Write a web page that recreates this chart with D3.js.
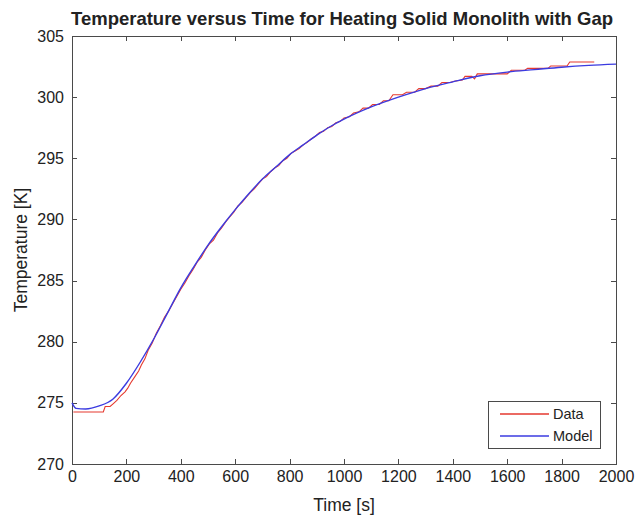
<!DOCTYPE html>
<head>
  <meta charset="utf-8">
  <style>
    body { margin: 0; background: #fff; }
    .axis path, .axis line { stroke: #4a4a4a; shape-rendering: crispEdges; }
    .axis text { font-family: "Liberation Sans", Arial, sans-serif; font-size: 16px; fill: #222; }
    .lbl { font-family: "Liberation Sans", Arial, sans-serif; fill: #222; }
  </style>
  <script src="https://cdn.jsdelivr.net/npm/d3@7"></script>
</head>
<body>
  <script>
    // axis ticks
    const xTicks = [0, 200, 400, 600, 800, 1000, 1200, 1400, 1600, 1800, 2000];
    const yTicks = [270, 275, 280, 285, 290, 295, 300, 305];

    // model curve (blue)
    const modelTime = [0, 15, 50, 100, 150, 200, 250, 300, 350, 400, 450, 500, 550, 600, 650, 700,
      750, 800, 850, 900, 950, 1000, 1100, 1200, 1300, 1400, 1500, 1600, 1700, 1800, 1900, 2000];
    const modelTemp = [275.0, 274.55, 274.5, 274.75, 275.3, 276.6, 278.3, 280.2, 282.3, 284.4, 286.2, 287.9,
      289.4, 290.8, 292.1, 293.3, 294.3, 295.3, 296.1, 296.9, 297.6, 298.2, 299.2, 300.0, 300.7, 301.25,
      301.75, 302.05, 302.25, 302.45, 302.6, 302.7];

    // measured data (red)
    const dataTime = [5, 115, 122, 140, 150, 165, 180, 195, 205, 215, 230, 245, 255, 268, 280, 295, 310, 325,
      340, 355, 370, 385, 400, 415, 430, 445, 460, 475, 490, 505, 520, 535, 550, 565, 580, 595, 610, 625,
      640, 655, 670, 685, 700, 715, 730, 745, 760, 775, 790, 805, 820, 835, 850, 865, 880, 895, 910, 925,
      940, 955, 970, 985, 1000, 1020, 1035, 1055, 1070, 1090, 1105, 1130, 1145, 1165, 1180, 1200, 1215,
      1230, 1260, 1275, 1300, 1320, 1345, 1360, 1390, 1405, 1435, 1445, 1470, 1480, 1490, 1560, 1600,
      1615, 1665, 1675, 1750, 1760, 1820, 1830, 1920];
    const dataTemp = [274.25, 274.25, 274.7, 274.7, 274.9, 275.2, 275.6, 275.9, 276.2, 276.6, 277.1, 277.6,
      278.1, 278.6, 279.3, 279.9, 280.7, 281.3, 282.0, 282.5, 283.1, 283.7, 284.3, 284.8, 285.4, 285.9,
      286.5, 286.9, 287.5, 288.0, 288.3, 288.9, 289.3, 289.8, 290.2, 290.6, 291.1, 291.4, 291.8, 292.2,
      292.5, 292.9, 293.3, 293.5, 293.9, 294.2, 294.4, 294.8, 295.0, 295.4, 295.6, 295.8, 296.1, 296.3,
      296.6, 296.8, 297.1, 297.2, 297.5, 297.6, 297.9, 298.0, 298.3, 298.4, 298.7, 298.8, 299.1, 299.1,
      299.4, 299.4, 299.7, 299.7, 300.2, 300.2, 300.2, 300.4, 300.4, 300.7, 300.7, 300.9, 300.9, 301.2,
      301.2, 301.3, 301.4, 301.7, 301.7, 301.5, 301.9, 301.9, 301.9, 302.2, 302.2, 302.35, 302.35, 302.55,
      302.55, 302.87, 302.87];

    const seriesNames = ['Data', 'Model'];
    const seriesColors = ['#e5392f', '#3b3be0'];

    const w = 636, h = 518;
    const m = { left: 72, right: 20, top: 36, bottom: 54 };

    const svg = d3.select('body').append('svg')
      .attr('width', w)
      .attr('height', h);

    const x = d3.scaleLinear().domain([0, 2000]).range([m.left, w - m.right]);
    const y = d3.scaleLinear().domain([270, 305]).range([h - m.bottom, m.top]);

    // frame
    svg.append('rect')
      .attr('x', x(0)).attr('y', y(305))
      .attr('width', x(2000) - x(0)).attr('height', y(270) - y(305))
      .attr('fill', 'none').attr('stroke', '#4a4a4a').attr('shape-rendering', 'crispEdges');

    svg.append('g').attr('class', 'axis')
      .attr('transform', `translate(0,${y(270)})`)
      .call(d3.axisBottom(x).tickValues(xTicks).tickFormat(d3.format('d'))
        .tickSizeInner(-5).tickSizeOuter(0).tickPadding(7));
    svg.append('g').attr('class', 'axis')
      .attr('transform', `translate(0,${y(305)})`)
      .call(d3.axisTop(x).tickValues(xTicks).tickSizeInner(-5).tickSizeOuter(0).tickFormat(''));
    svg.append('g').attr('class', 'axis')
      .attr('transform', `translate(${x(0)},0)`)
      .call(d3.axisLeft(y).tickValues(yTicks).tickSizeInner(-5).tickSizeOuter(0).tickPadding(8));
    svg.append('g').attr('class', 'axis')
      .attr('transform', `translate(${x(2000)},0)`)
      .call(d3.axisRight(y).tickValues(yTicks).tickSizeInner(-5).tickSizeOuter(0).tickFormat(''));

    const line = d3.line().x(d => x(d[0])).y(d => y(d[1]));

    svg.append('path')
      .datum(dataTime.map((t, i) => [t, dataTemp[i]]))
      .attr('d', line)
      .attr('fill', 'none').attr('stroke', seriesColors[0]).attr('stroke-width', 1.1);

    svg.append('path')
      .datum(modelTime.map((t, i) => [t, modelTemp[i]]))
      .attr('d', line.curve(d3.curveMonotoneX))
      .attr('fill', 'none').attr('stroke', seriesColors[1]).attr('stroke-width', 1.4);

    // title and labels
    svg.append('text').attr('class', 'lbl')
      .attr('x', (x(0) + x(2000)) / 2 - 2).attr('y', 25)
      .attr('text-anchor', 'middle').attr('font-weight', 'bold').attr('font-size', 18.5)
      .text('Temperature versus Time for Heating Solid Monolith with Gap');
    svg.append('text').attr('class', 'lbl')
      .attr('x', (x(0) + x(2000)) / 2).attr('y', 511)
      .attr('text-anchor', 'middle').attr('font-size', 17.5)
      .text('Time [s]');
    svg.append('text').attr('class', 'lbl')
      .attr('transform', `translate(27,${(y(270) + y(305)) / 2}) rotate(-90)`)
      .attr('text-anchor', 'middle').attr('font-size', 17.5)
      .text('Temperature [K]');

    // legend
    const lg = svg.append('g').attr('transform', 'translate(488,401)');
    lg.append('rect').attr('width', 112).attr('height', 47)
      .attr('fill', '#fff').attr('stroke', '#4a4a4a').attr('shape-rendering', 'crispEdges');
    seriesNames.forEach((name, i) => {
      const yy = 13 + i * 22;
      lg.append('line').attr('x1', 12).attr('x2', 61).attr('y1', yy).attr('y2', yy)
        .attr('stroke', seriesColors[i]).attr('stroke-width', 1.3);
      lg.append('text').attr('class', 'lbl').attr('x', 65).attr('y', yy + 5)
        .attr('font-size', 14.5).text(name);
    });
  </script>
</body>
